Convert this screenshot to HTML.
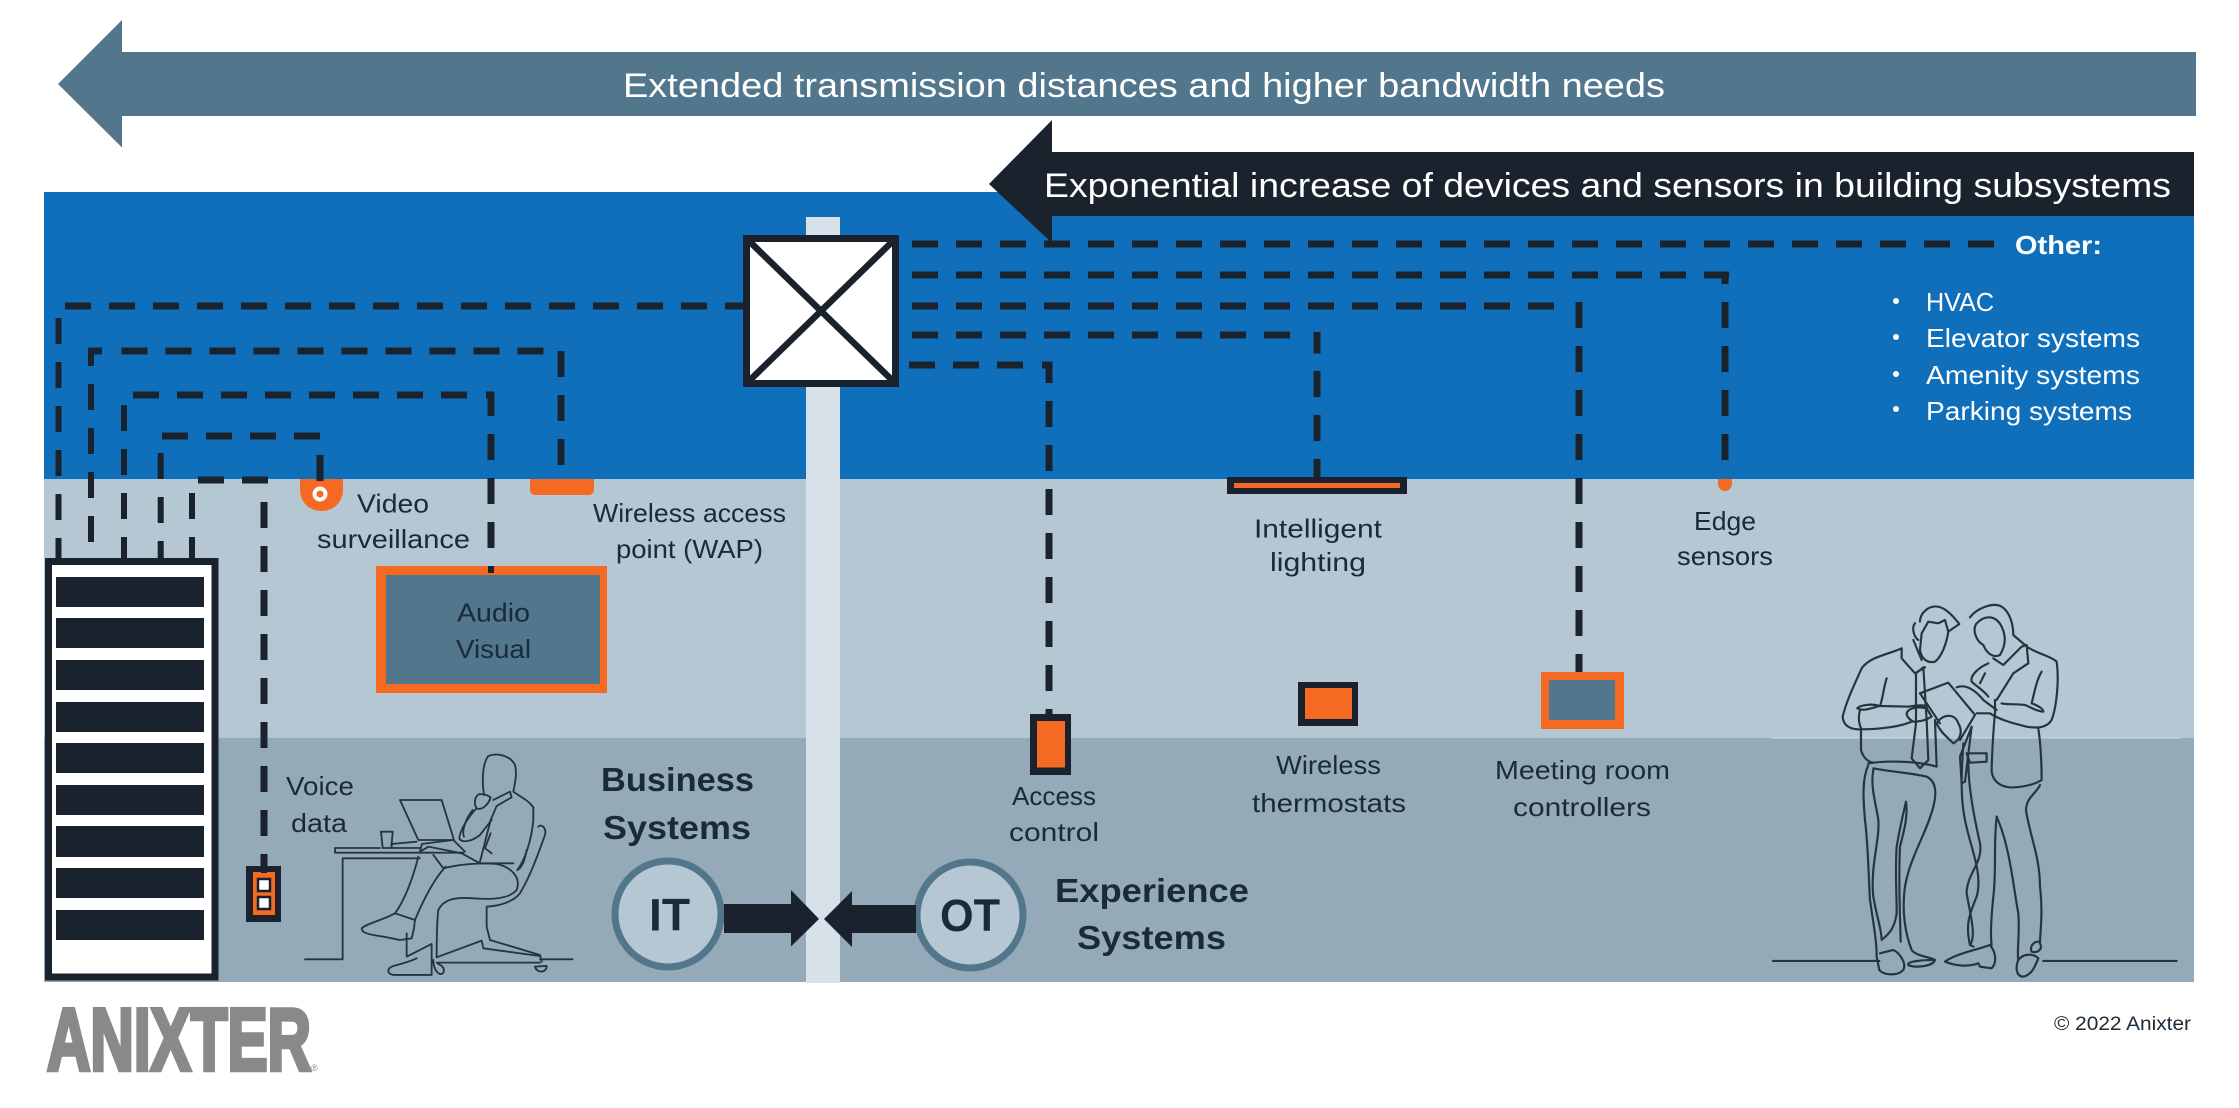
<!DOCTYPE html>
<html><head><meta charset="utf-8"><title>Extended transmission distances</title>
<style>
html,body{margin:0;padding:0;background:#fff}
svg{display:block}
text{font-family:"Liberation Sans",sans-serif;fill:#1b2a37}
.l{font-size:26px}
.w{fill:#fff}
.b{font-weight:bold}
.d line{stroke:#1a232d;stroke-width:7;stroke-dasharray:26 18}
.d line.n{stroke-width:6}
.s line{stroke:#1a232d;stroke-width:7}
.s line.n{stroke-width:6}
.m path{fill:none;stroke:#25353f;stroke-width:5.5;stroke-linecap:round;stroke-linejoin:round}
.m2 path{stroke-width:6.5}
</style></head><body>
<svg width="2239" height="1108" viewBox="0 0 2239 1108" xmlns="http://www.w3.org/2000/svg">
<rect width="2239" height="1108" fill="#fff"/>
<!-- bands -->
<rect x="44" y="192" width="2150" height="287" fill="#0f6fba"/>
<rect x="44" y="479" width="2150" height="259" fill="#b4c7d3"/>
<rect x="44" y="738" width="2150" height="244" fill="#94aab8"/>
<rect x="1771" y="737.500" width="410" height="1" fill="#cbd8e0"/>
<rect x="806" y="217" width="34" height="766" fill="#d6e1e9"/>
<!-- top arrows -->
<polygon points="58,84 122,20 122,52 2196,52 2196,116 122,116 122,147.5" fill="#52768c"/>
<polygon points="989,184 1052,120 1052,152 2194,152 2194,216 1052,216 1052,243" fill="#1a232d"/>
<text x="623" y="97" class="w" font-size="34" textLength="1042" lengthAdjust="spacingAndGlyphs">Extended transmission distances and higher bandwidth needs</text>
<text x="1044" y="197" class="w" font-size="34" textLength="1127" lengthAdjust="spacingAndGlyphs">Exponential increase of devices and sensors in building subsystems</text>
<!-- dashed connectors -->
<g class="d">
<line x1="912" y1="244" x2="1999" y2="244"/>
<line x1="912" y1="275" x2="1729" y2="275"/>
<line x1="912" y1="306" x2="1558" y2="306"/>
<line x1="912" y1="335" x2="1292" y2="335"/>
<line x1="909" y1="365" x2="1024" y2="365"/>
<line x1="65" y1="306" x2="743" y2="306"/>
<line x1="121.5" y1="351" x2="545" y2="351"/>
<line x1="133" y1="395" x2="469" y2="395"/>
<line x1="162" y1="436" x2="321" y2="436"/>
<line x1="198" y1="480" x2="269" y2="480"/>
<line x1="1725" y1="302" x2="1725" y2="460"/>
<line x1="1579" y1="302" x2="1579" y2="672"/>
<line x1="1317" y1="371" x2="1317" y2="480"/>
<line x1="1049" y1="401" x2="1049" y2="714"/>
<line x1="561" y1="351" x2="561" y2="467"/>
<line x1="491" y1="434" x2="491" y2="573"/>
<line x1="264" y1="502" x2="264" y2="866"/>
<line class="n" x1="124" y1="405" x2="124" y2="558"/>
<line class="n" x1="160.7" y1="453" x2="160.7" y2="558"/>
<line class="n" x1="192" y1="493" x2="192" y2="558"/>
<line class="n" x1="58.5" y1="318" x2="58.5" y2="558"/>
<line class="n" x1="91" y1="384" x2="91" y2="543"/>
</g>
<g class="s">
<line x1="1707" y1="275" x2="1729" y2="275"/>
<line x1="1725" y1="272" x2="1725" y2="284"/>
<line x1="1579" y1="303" x2="1579" y2="327"/>
<line x1="1317" y1="332" x2="1317" y2="353.5"/>
<line x1="1042" y1="365" x2="1052.5" y2="365"/>
<line x1="1049" y1="362" x2="1049" y2="383"/>
<line x1="88" y1="351" x2="102" y2="351"/>
<line class="n" x1="91" y1="348" x2="91" y2="366"/>
<line x1="486" y1="395" x2="494" y2="395"/>
<line x1="491" y1="392" x2="491" y2="416"/>
<line x1="320" y1="455" x2="320" y2="482"/>
</g>
<!-- switch -->
<rect x="746.5" y="238.5" width="149" height="145" fill="#fff" stroke="#1a232d" stroke-width="7"/>
<path d="M748 240 L894 382 M894 240 L748 382" stroke="#1a232d" stroke-width="6.5" fill="none"/>
<!-- camera -->
<path d="M300 479 H343 V489 C343 503 333 511 321.500 511 C310 511 300 503 300 489 Z" fill="#f46a22"/>
<circle cx="320" cy="494" r="5.500" fill="#f46a22" stroke="#fff" stroke-width="4"/>
<rect x="316.500" y="460" width="7" height="21" fill="#1a232d"/>
<!-- WAP -->
<path d="M530 479 H594 V489 Q594 495 588 495 H536 Q530 495 530 489 Z" fill="#f46a22"/>
<!-- lighting -->
<rect x="1227" y="477" width="180" height="17" fill="#1a232d"/>
<rect x="1234" y="483" width="166" height="5" fill="#f46a22"/>
<!-- edge -->
<path d="M1718 479 H1732 V483 C1732 488 1729 491 1725 491 C1721 491 1718 488 1718 483 Z" fill="#f46a22"/>
<!-- rack -->
<rect x="48.500" y="561.500" width="166.500" height="415.500" fill="#fff" stroke="#1a232d" stroke-width="7"/>
<g fill="#1a232d">
<rect x="56" y="577" width="148" height="30"/><rect x="56" y="618" width="148" height="30"/><rect x="56" y="660" width="148" height="30"/><rect x="56" y="702" width="148" height="30"/><rect x="56" y="743" width="148" height="30"/><rect x="56" y="785" width="148" height="30"/><rect x="56" y="826" width="148" height="31"/><rect x="56" y="868" width="148" height="30"/><rect x="56" y="910" width="148" height="30"/>
</g>
<!-- AV -->
<rect x="376" y="566" width="231" height="127" fill="#f46a22"/>
<rect x="386" y="575" width="214" height="109" fill="#52768c"/>
<rect x="488" y="566" width="6" height="7" fill="#1a232d"/>
<!-- access -->
<rect x="1030" y="714" width="41" height="61" fill="#1a232d"/>
<rect x="1037" y="721" width="28" height="46.500" fill="#f46a22"/>
<!-- outlet -->
<rect x="246" y="866" width="35" height="56" fill="#1a232d"/>
<rect x="253" y="872" width="22" height="43" fill="#f46a22"/>
<rect x="258" y="879" width="12" height="12" fill="#fff" stroke="#1a232d" stroke-width="2.500"/>
<rect x="258" y="897" width="12" height="12" fill="#fff" stroke="#1a232d" stroke-width="2.500"/>
<rect x="261" y="866" width="6" height="7" fill="#1a232d"/>
<!-- thermostat -->
<rect x="1298" y="682" width="60" height="44" fill="#1a232d"/>
<rect x="1305" y="688" width="47" height="31" fill="#f46a22"/>
<!-- meeting controller -->
<rect x="1541" y="672" width="83" height="57" fill="#f46a22"/>
<rect x="1549" y="680" width="66" height="40" fill="#52768c"/>
<!-- IT/OT -->
<circle cx="668" cy="914" r="53" fill="#b4c7d3" stroke="#52768c" stroke-width="7"/>
<circle cx="970" cy="915" r="53" fill="#b4c7d3" stroke="#52768c" stroke-width="7"/>
<polygon points="724,904 791,904 791,890 819,919 791,946.500 791,933 724,933" fill="#1a232d"/>
<polygon points="916,905 852,905 852,891 824,919 852,947 852,933 916,933" fill="#1a232d"/>
<text x="649" y="930.500" class="b" font-size="45" textLength="41" lengthAdjust="spacingAndGlyphs">IT</text>
<text x="940" y="931" class="b" font-size="45" textLength="60" lengthAdjust="spacingAndGlyphs">OT</text>
<!-- labels -->
<text x="2015" y="254" class="w b" font-size="26" textLength="87" lengthAdjust="spacingAndGlyphs">Other:</text>
<g fill="#fff"><circle cx="1896" cy="301" r="3"/><circle cx="1896" cy="337" r="3"/><circle cx="1896" cy="374" r="3"/><circle cx="1896" cy="409" r="3"/></g>
<text x="1926" y="311" class="w l" textLength="68" lengthAdjust="spacingAndGlyphs">HVAC</text>
<text x="1926" y="347" class="w l" textLength="214" lengthAdjust="spacingAndGlyphs">Elevator systems</text>
<text x="1926" y="384" class="w l" textLength="214" lengthAdjust="spacingAndGlyphs">Amenity systems</text>
<text x="1926" y="420" class="w l" textLength="206" lengthAdjust="spacingAndGlyphs">Parking systems</text>
<text x="357" y="512.500" class="l" textLength="72" lengthAdjust="spacingAndGlyphs">Video</text>
<text x="317" y="548" class="l" textLength="153" lengthAdjust="spacingAndGlyphs">surveillance</text>
<text x="593" y="522" class="l" textLength="193" lengthAdjust="spacingAndGlyphs">Wireless access</text>
<text x="616" y="558" class="l" textLength="147" lengthAdjust="spacingAndGlyphs">point (WAP)</text>
<text x="457" y="621.500" class="l" textLength="73" lengthAdjust="spacingAndGlyphs">Audio</text>
<text x="456" y="658" class="l" textLength="75" lengthAdjust="spacingAndGlyphs">Visual</text>
<text x="286" y="795" class="l" textLength="68" lengthAdjust="spacingAndGlyphs">Voice</text>
<text x="291" y="832" class="l" textLength="56" lengthAdjust="spacingAndGlyphs">data</text>
<text x="601" y="791" class="b" font-size="33" textLength="153" lengthAdjust="spacingAndGlyphs">Business</text>
<text x="603" y="839" class="b" font-size="33" textLength="148" lengthAdjust="spacingAndGlyphs">Systems</text>
<text x="1055" y="902" class="b" font-size="33" textLength="194" lengthAdjust="spacingAndGlyphs">Experience</text>
<text x="1077" y="949" class="b" font-size="33" textLength="149" lengthAdjust="spacingAndGlyphs">Systems</text>
<text x="1012" y="805" class="l" textLength="84" lengthAdjust="spacingAndGlyphs">Access</text>
<text x="1009" y="841" class="l" textLength="90" lengthAdjust="spacingAndGlyphs">control</text>
<text x="1254" y="537.500" class="l" textLength="128" lengthAdjust="spacingAndGlyphs">Intelligent</text>
<text x="1270" y="571" class="l" textLength="96" lengthAdjust="spacingAndGlyphs">lighting</text>
<text x="1694" y="530" class="l" textLength="62" lengthAdjust="spacingAndGlyphs">Edge</text>
<text x="1677" y="565" class="l" textLength="96" lengthAdjust="spacingAndGlyphs">sensors</text>
<text x="1276" y="774" class="l" textLength="105" lengthAdjust="spacingAndGlyphs">Wireless</text>
<text x="1252" y="812" class="l" textLength="154" lengthAdjust="spacingAndGlyphs">thermostats</text>
<text x="1495" y="779" class="l" textLength="175" lengthAdjust="spacingAndGlyphs">Meeting room</text>
<text x="1513" y="816" class="l" textLength="138" lengthAdjust="spacingAndGlyphs">controllers</text>
<text x="2054" y="1030" font-size="19" textLength="137" lengthAdjust="spacingAndGlyphs">© 2022 Anixter</text>
<!-- logo -->
<text x="47" y="1070" font-size="88" font-weight="bold" style="fill:#88898b;stroke:#88898b;stroke-width:4.500" textLength="264" lengthAdjust="spacingAndGlyphs">ANIXTER</text>
<text x="311" y="1071" font-size="9" style="fill:#88898b">®</text>
<!-- seated person -->
<g class="m" transform="translate(280 720) scale(.3333)">
<path d="M75,718 H188 V415 H420"/>
<path d="M165,384 H300 M335,384 H420 M165,398 H550 M165,384 V398"/>
<path d="M303,335 H338 L334,384 H308 Z"/>
<path d="M360,240 H485 L522,360 H415 Z"/>
<path d="M335,384 V372 L410,365 M425,372 L520,360 L555,395"/>
<path d="M612,225 C605,180 608,130 625,108 C650,98 690,105 705,135 C712,160 705,190 700,215 C720,230 745,240 760,262"/>
<path d="M600,222 C585,225 580,250 590,265 C605,272 625,255 632,232 L620,225 Z"/>
<path d="M640,240 L690,215 L695,232 L650,258 L632,300 L600,425"/>
<path d="M590,265 C565,290 540,330 538,355 C545,370 575,365 600,345 L635,300"/>
<path d="M578,270 C555,300 545,335 552,350"/>
<path d="M760,262 V300 C755,360 735,420 712,450 M632,340 L615,385 L635,400"/>
<path d="M775,320 C785,310 800,325 795,345 C775,400 755,460 720,520 C700,545 660,558 620,560 V620 L630,660 L780,705 L785,725"/>
<path d="M740,390 C735,420 725,445 712,450"/>
<path d="M460,405 L490,445 C540,432 600,428 650,432 C690,440 725,470 710,510 C690,535 640,540 580,535 C520,530 490,540 475,570 C470,610 470,660 470,712"/>
<path d="M415,410 C400,470 375,540 345,580 L405,600 C430,540 460,480 497,440"/>
<path d="M345,580 C310,600 260,610 245,625 C245,645 290,645 335,655 L360,660 L395,655 L402,625 L405,600"/>
<path d="M380,640 V710 L455,672 V765 H340 C320,760 320,745 340,738 C370,730 390,725 410,715"/>
<path d="M470,712 L605,662 L610,685 L780,708"/>
<path d="M470,728 H780 M780,718 H878"/>
<path d="M800,738 C800,760 770,760 765,740 L800,738"/>
<path d="M460,720 C460,760 490,775 492,750 C490,735 475,735 472,728"/>
<path d="M425,375 L420,395 L445,380 L545,400 L600,430 L700,430"/>
</g>
<!-- standing people -->
<g class="m m2" transform="translate(1780 580) scale(.3333)">
<path d="M-21,1143 H298" stroke-width="7"/>
<path d="M790,1143 H1190"/>
<path d="M405,130 C395,140 400,170 415,180"/>
<path d="M420,125 C420,100 445,75 475,80 C500,85 525,115 538,132 L505,155 L495,120 L475,130 L445,125 L425,160 L420,210 C425,240 445,250 465,245 C485,230 500,190 505,155"/>
<path d="M365,205 C320,225 270,230 245,265 C225,310 200,360 188,410 C190,440 215,450 245,448 C300,448 360,440 395,425"/>
<path d="M365,205 V235 L405,280 L435,262 M400,180 L425,240"/>
<path d="M320,295 C310,325 310,350 300,378 C275,370 240,375 232,385 C250,395 270,385 300,378 L385,380 C400,378 430,372 445,380"/>
<path d="M240,390 C235,410 235,430 245,448"/>
<path d="M380,400 C385,385 410,378 440,385 L455,410 C440,420 420,425 400,425 C390,420 380,410 380,400 Z"/>
<path d="M408,280 L430,262 L440,420 L445,540 L420,565 L395,535 L408,430 Z"/>
<path d="M243,448 V510 C250,535 265,545 280,548"/>
<path d="M265,550 C330,540 420,545 470,560 L465,420"/>
<path d="M280,565 C330,575 400,580 440,590 C470,605 470,640 460,680 C440,760 390,830 375,920 C365,990 375,1060 395,1110 C410,1130 450,1130 465,1140 C460,1160 400,1165 385,1155 C380,1145 420,1140 465,1140"/>
<path d="M265,555 C245,600 250,660 255,720 C265,800 265,880 270,960 C280,1030 290,1080 290,1130 L298,1170 C310,1185 350,1190 370,1170 C380,1150 360,1120 340,1110 L300,1120"/>
<path d="M280,570 C270,620 290,680 295,720 C300,780 270,860 280,950 C290,1010 305,1050 305,1080 C330,1060 345,1040 350,1000 C350,930 345,870 350,800 C360,740 370,700 378,665 C385,710 370,760 360,800 C355,900 360,1000 362,1085"/>
<path d="M570,112 C590,85 640,65 665,80 C690,95 700,135 700,165 L735,195"/>
<path d="M590,130 C575,150 590,185 610,195 C620,220 640,235 660,225 C675,200 680,170 665,140 C650,110 620,100 590,130 Z"/>
<path d="M640,235 L670,255 L725,200 L740,195 L745,250 L700,280 L650,360"/>
<path d="M740,200 C770,220 815,230 830,245 C838,300 830,380 815,420 C800,445 770,445 740,440 C700,430 660,420 630,400 L590,400"/>
<path d="M785,275 C770,300 765,330 755,370 C770,375 790,385 790,395 C770,395 750,380 735,375 C700,370 680,375 665,370"/>
<path d="M645,360 V400 C640,450 635,540 635,575 C640,610 670,625 705,622 C740,620 770,610 785,600 C785,540 780,480 775,445"/>
<path d="M625,250 C590,265 570,290 575,305 C590,320 610,330 625,350 M615,280 L600,310"/>
<path d="M780,615 C770,640 740,650 738,690 C750,770 780,830 780,920 C790,1000 780,1060 780,1090 C790,1110 770,1120 755,1115 C745,1095 775,1075 780,1090"/>
<path d="M560,520 H620 V545 L570,548 Z"/>
<path d="M550,490 C545,570 540,650 555,720 C570,800 610,880 590,950 C570,1000 555,1030 570,1095 L580,1100"/>
<path d="M565,545 C565,620 580,700 600,790 C610,850 560,880 560,940 C570,1000 590,1070 570,1095"/>
<path d="M650,710 C690,800 700,920 715,1000 C720,1060 710,1120 715,1140"/>
<path d="M650,710 C640,800 650,870 640,950 C635,1000 630,1060 635,1095"/>
<path d="M545,610 L540,530 L575,440 L555,605 Z"/>
<path d="M495,1145 C530,1120 590,1110 630,1095 C650,1120 650,1150 635,1165 L600,1160 L595,1150 C570,1160 530,1160 495,1145 Z"/>
<path d="M715,1140 C730,1120 760,1120 775,1135 C765,1160 755,1185 730,1190 C710,1190 705,1165 715,1140 Z"/>
<path d="M420,340 L505,308 L585,405 L540,480"/>
<path d="M420,340 L480,430"/>
<path d="M470,430 C490,400 525,400 535,430 C550,455 540,480 520,490 C500,470 480,455 470,430 Z"/>
<path d="M530,322 C560,310 590,335 610,360 L650,390"/>
</g>
</svg>
</body></html>
